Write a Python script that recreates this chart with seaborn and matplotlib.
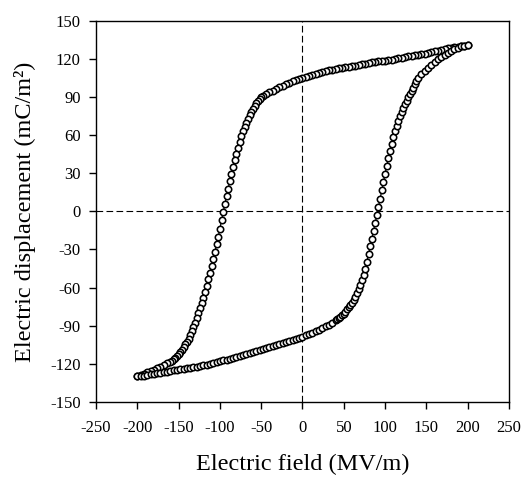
import matplotlib
matplotlib.use("Agg")
import matplotlib.pyplot as plt
import seaborn as sns
import pandas as pd

# Descending branch (field swept from +200 to -200 MV/m)
E_down = [200, 196, 192, 188, 184, 180, 176, 172, 168, 164, 160, 156, 152, 148, 144, 140,
          136, 132, 128, 124, 120, 116, 112, 108, 104, 100, 96, 92, 88, 84, 80, 76, 72, 68,
          64, 60, 56, 52, 48, 44, 40, 36, 32, 28, 24, 20, 16, 12, 8, 4, 0, -4, -8, -12, -16,
          -20, -24, -28, -32, -36, -40, -44, -48,
          -50, -52, -54, -56, -58, -60, -62, -64, -66, -68, -70, -72, -74, -76, -78, -80,
          -82, -84, -86, -88, -90, -92, -94, -96, -98, -100, -102, -104, -106, -108, -110,
          -112, -114, -116, -118, -120, -122, -124, -126, -128, -130, -132, -134, -136, -138,
          -140, -142, -144, -146, -148, -150, -152, -154, -156, -158, -160,
          -164, -168, -172, -176, -180, -184, -188, -192, -196, -200]
D_down = [131.0, 130.6, 130.0, 129.6, 129.2, 128.8, 128.3, 127.8, 127.3, 126.7, 126.1, 125.5,
          124.8, 124.3, 123.8, 123.3, 122.9, 122.5, 122.0, 121.6, 121.1, 120.6, 120.1, 119.6,
          119.2, 118.8, 118.5, 118.1, 117.8, 117.3, 116.9, 116.3, 115.7, 115.2, 114.7, 114.2,
          113.8, 113.4, 113.0, 112.6, 112.2, 111.6, 111.0, 110.3, 109.5, 108.8, 108.0, 107.3,
          106.6, 105.8, 105.2, 104.3, 103.4, 102.4, 101.3, 100.2, 99.0, 97.6, 96.4, 95.1,
          93.8, 92.3, 90.8,
          89.8, 88.5, 87.0, 85.2, 83.2, 81.0, 78.6, 76.0, 73.1, 70.0, 66.8, 63.0, 59.0, 54.8,
          50.3, 45.5, 40.5, 35.0, 29.5, 24.0, 18.0, 12.0, 5.8, -0.5, -7.0, -13.5, -20.0,
          -26.0, -31.8, -37.5, -43.0, -48.3, -53.5, -58.5, -63.2, -67.8, -72.2, -76.3, -80.2,
          -84.0, -87.7, -91.2, -94.5, -97.5, -100.2, -102.6, -104.8, -106.8, -108.8, -110.8,
          -112.6, -114.2, -115.5, -116.6, -117.5, -118.3,
          -119.7, -121.0, -122.2, -123.4, -124.5, -125.6, -126.8, -127.9, -129.0, -130.0]

# Ascending branch (field swept from -200 to +200 MV/m)
E_up = [-200, -196, -192, -188, -184, -180, -176, -172, -168, -164, -160, -156, -152, -148,
        -144, -140, -136, -132, -128, -124, -120, -116, -112, -108, -104, -100, -96, -92,
        -88, -84, -80, -76, -72, -68, -64, -60, -56, -52, -48, -44, -40, -36, -32, -28, -24,
        -20, -16, -12, -8, -4, 0, 4, 8, 12, 16, 20, 24, 28, 32, 36, 40,
        42, 44, 46, 48, 50, 52, 54, 56, 58, 60, 62, 64, 66, 68, 70, 72, 74, 76, 78, 80, 82,
        84, 86, 88, 90, 92, 94, 96, 98, 100, 102, 104, 106, 108, 110, 112, 114, 116, 118,
        120, 122, 124, 126, 128, 130, 132, 134, 136, 138, 140,
        144, 148, 152, 156, 160, 164, 168, 172, 176, 180, 184, 188, 192, 196, 200]
D_up = [-130.0, -129.7, -129.3, -128.9, -128.4, -128.0, -127.5, -127.1, -126.6, -126.1,
        -125.6, -125.2, -124.8, -124.4, -124.0, -123.6, -123.2, -122.8, -122.3, -121.8,
        -121.2, -120.6, -120.0, -119.4, -118.8, -118.1, -117.4, -116.7, -116.0, -115.2,
        -114.4, -113.6, -112.8, -112.0, -111.3, -110.6, -109.9, -109.2, -108.5, -107.8,
        -107.0, -106.2, -105.4, -104.6, -103.7, -102.8, -101.9, -101.0, -100.1, -99.3,
        -98.6, -97.6, -96.6, -95.6, -94.5, -93.3, -92.0, -90.6, -89.1, -87.5, -85.8,
        -85.0, -84.1, -83.0, -81.8, -80.4, -78.9, -77.2, -75.6, -73.8, -71.8, -69.7, -67.3,
        -64.6, -61.4, -58.0, -54.2, -50.0, -45.3, -39.5, -33.5, -27.5, -21.5, -15.3, -9.2,
        -3.0, 3.5, 10.0, 16.5, 23.0, 29.5, 36.0, 42.0, 47.5, 53.0, 58.2, 63.0, 67.3, 71.2,
        74.8, 78.2, 81.4, 84.4, 87.2, 89.9, 92.5, 95.0, 97.5, 100.0, 102.5, 105.0,
        108.0, 110.6, 113.0, 115.4, 117.8, 119.9, 121.8, 123.5, 125.0, 126.4, 127.7, 128.9,
        129.9, 130.6, 131.0]

x_ticks = [-250, -200, -150, -100, -50, 0, 50, 100, 150, 200, 250]
y_ticks = [-150, -120, -90, -60, -30, 0, 30, 60, 90, 120, 150]
x_label = "Electric field (MV/m)"
y_label = "Electric displacement (mC/m\u00b2)"

sns.set_theme(style="ticks")
plt.rcParams["font.family"] = ["Liberation Serif", "DejaVu Serif"]
plt.rcParams["axes.linewidth"] = 1.0

fig = plt.figure(figsize=(5.22, 4.98), dpi=100)
ax = fig.add_axes([0.184, 0.193, 0.791, 0.765])

ax.axhline(0, color="black", lw=0.8, dashes=(6, 3), zorder=1)
ax.axvline(0, color="black", lw=0.8, dashes=(6, 3), zorder=1)

df_down = pd.DataFrame({"E": E_down, "D": D_down})
df_up = pd.DataFrame({"E": E_up, "D": D_up})
for df in (df_down, df_up):
    sns.lineplot(data=df, x="E", y="D", sort=False, estimator=None, ax=ax,
                 color="black", linewidth=0.9, marker="o", markersize=4.6,
                 markerfacecolor="white", markeredgecolor="black",
                 markeredgewidth=1.15, zorder=3)

ax.set_xlim(-250, 250)
ax.set_ylim(-150, 150)
ax.set_xticks(x_ticks)
ax.set_yticks(y_ticks)
ax.set_xticklabels([str(v) for v in x_ticks])
ax.set_yticklabels([str(v) for v in y_ticks])
ax.tick_params(axis="both", direction="out", length=5, width=1.0, colors="black",
               labelsize=12)
ax.tick_params(axis="x", pad=8)
ax.tick_params(axis="y", pad=6)
for s in ax.spines.values():
    s.set_visible(True)
    s.set_color("black")
    s.set_linewidth(1.0)

ax.set_xlabel(x_label, fontsize=17.5, labelpad=13, color="black")
ax.set_ylabel(y_label, fontsize=17.5, labelpad=10, color="black")

fig.savefig("out.png", dpi=100, facecolor="white")
